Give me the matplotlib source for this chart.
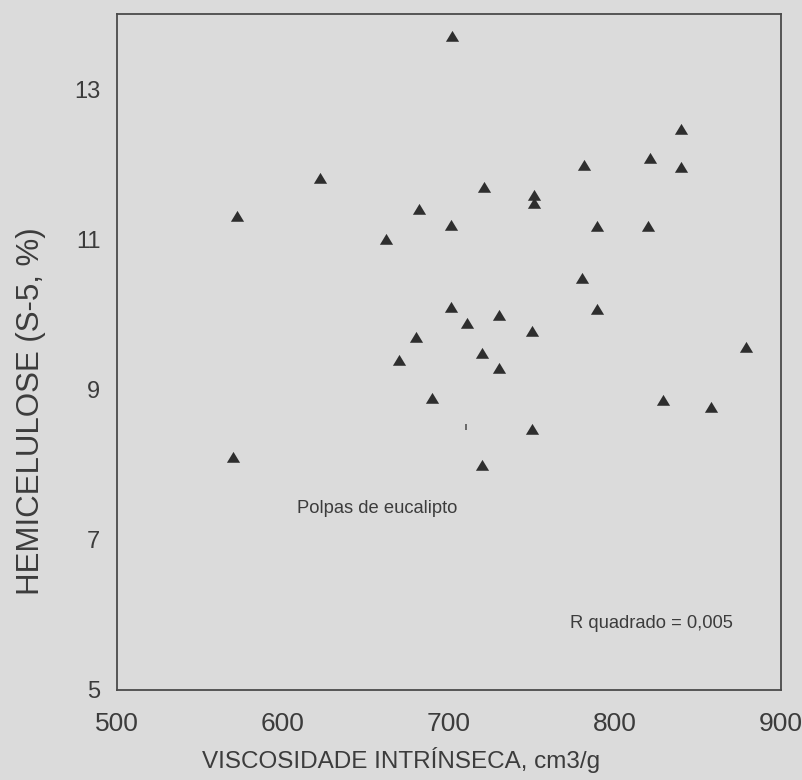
import matplotlib
matplotlib.use("Agg")
import matplotlib.pyplot as plt

viscosidade = [702, 781, 622, 721, 751, 751, 572, 682, 701, 789, 662, 780,
               701, 789, 730, 711, 750, 680, 720, 670, 730, 690, 750, 570,
               720, 840, 821, 840, 820, 879, 829, 858]
hemicelulose = [13.71, 11.99, 11.82, 11.70, 11.59, 11.48, 11.31, 11.40, 11.19, 11.18,
                11.01, 10.49, 10.10, 10.07, 9.99, 9.89, 9.78, 9.70, 9.49, 9.39,
                9.29, 8.89, 8.48, 8.10, 8.00, 12.47, 12.08, 11.96, 11.18, 9.57,
                8.86, 8.77]
stray_x = [710]
stray_y = [8.50]

x_ticks = [500, 600, 700, 800, 900]
y_ticks = [5, 7, 9, 11, 13]

reg = 'Liberation Sans'
bg = '#dbdbdb'
txt = '#3c3c3c'
fig = plt.figure(figsize=(8.02, 7.80), dpi=100, facecolor=bg)
ax = fig.add_axes([0.1459, 0.1154, 0.828, 0.8667], facecolor=bg)

tri = [(-1, -0.8), (1, -0.8), (0, 0.85)]
ax.plot(viscosidade, hemicelulose, linestyle='none', marker=tri, markersize=9.5,
        color='#2e2e2e', markeredgewidth=0)
ax.plot(stray_x, stray_y, linestyle='none', marker='|', markersize=4,
        color='#555555', markeredgewidth=1.2)

ax.set_xlim(500, 900)
ax.set_ylim(5, 14)
ax.set_xticks(x_ticks)
ax.set_yticks(y_ticks)
ax.set_xticklabels([str(v) for v in x_ticks], fontfamily=reg, fontsize=19, color=txt)
ax.set_yticklabels([str(v) for v in y_ticks], fontfamily=reg, fontsize=17, color=txt)
ax.tick_params(axis='both', length=0)
ax.tick_params(axis='x', pad=16)
ax.tick_params(axis='y', pad=12)
for s in ax.spines.values():
    s.set_color('#4a4a4a')
    s.set_linewidth(1.3)

ax.text(657, 7.42, 'Polpas de eucalipto', fontfamily=reg, fontsize=13.2,
        color=txt, ha='center', va='center')
ax.text(822, 5.89, 'R quadrado = 0,005', fontfamily=reg, fontsize=13.2,
        color=txt, ha='center', va='center')

fig.text(0.5, 1 - 760/780, 'VISCOSIDADE INTRÍNSECA, cm3/g', fontfamily=reg,
         fontsize=17.5, color=txt, ha='center', va='center')
fig.text(31/802, 1 - 411/780, 'HEMICELULOSE (S-5, %)', fontfamily=reg,
         fontsize=22.5, color=txt, ha='center', va='center', rotation=90)

fig.savefig('out.png', dpi=100, facecolor=bg)
